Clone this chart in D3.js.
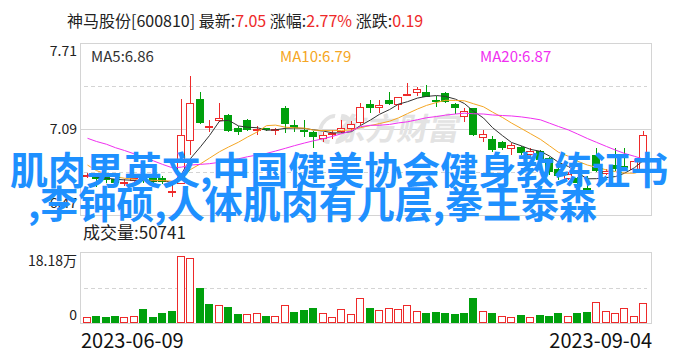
<!DOCTYPE html>
<html>
<head>
<meta charset="utf-8">
<script src="https://cdn.jsdelivr.net/npm/d3@7"></script>
<style>
  html, body { margin: 0; padding: 0; background: #fff; overflow: hidden; }
  text { font-family: "Noto Sans CJK SC", "Noto Sans", sans-serif; }
</style>
</head>
<body>
<div id="chart"></div>
<script>
// daily candles, 2023-06-09 .. 2023-09-04
var opens  = [6.750,6.750,6.745,6.730,6.700,6.720,6.750,6.750,6.740,6.640,
              6.699,7.009,7.306,7.110,7.153,7.191,7.095,7.155,7.090,7.095,
              7.085,7.244,7.119,7.085,7.070,7.027,7.055,7.075,7.100,7.143,
              7.270,7.246,7.300,7.268,7.335,7.357,7.355,7.300,7.347,7.270,
              7.182,7.239,7.030,7.018,6.994,6.950,6.960,6.910,6.930,6.880,
              6.800,6.740,6.735,6.665,6.900,6.770,6.830,6.822,6.800,6.782];
var highs  = [6.770,6.765,6.760,6.745,6.730,6.760,6.760,6.760,6.750,6.700,
              7.304,7.474,7.359,7.155,7.280,7.195,7.110,7.160,7.110,7.100,
              7.100,7.255,7.155,7.155,7.075,7.070,7.080,7.155,7.148,7.275,
              7.300,7.300,7.355,7.320,7.425,7.395,7.407,7.328,7.360,7.275,
              7.240,7.240,7.083,7.040,7.000,6.987,6.970,6.950,6.940,6.890,
              6.810,6.780,6.745,6.750,6.950,6.800,6.950,6.950,6.875,7.075];
var lows   = [6.735,6.670,6.700,6.680,6.680,6.700,6.700,6.700,6.690,6.600,
              6.690,6.900,7.124,7.070,7.144,7.070,7.050,7.075,7.050,7.075,
              7.050,7.063,7.070,7.035,6.950,6.998,7.020,7.060,7.075,7.119,
              7.208,7.203,7.260,7.225,7.330,7.330,7.320,7.250,7.280,7.200,
              7.143,7.040,6.998,6.927,6.940,6.900,6.900,6.890,6.850,6.760,
              6.720,6.720,6.660,6.655,6.780,6.760,6.790,6.790,6.790,6.780];
var closes = [6.755,6.730,6.720,6.700,6.710,6.740,6.720,6.710,6.705,6.645,
              7.047,7.275,7.131,7.115,7.169,7.076,7.070,7.083,7.090,7.080,
              7.090,7.124,7.095,7.080,7.030,7.047,7.060,7.095,7.124,7.251,
              7.244,7.265,7.268,7.318,7.340,7.376,7.323,7.298,7.287,7.239,
              7.220,7.047,7.054,6.940,6.950,6.975,6.920,6.930,6.870,6.780,
              6.750,6.765,6.700,6.662,6.785,6.790,6.800,6.820,6.860,7.050];
var volumes = [16600,17400,14800,17400,16600,19200,35600,14800,25200,30400,
               172000,167000,90000,48600,45000,40800,22600,21800,24400,17400,
               19200,45000,27800,33000,38200,24400,16600,34800,21800,63400,
               38200,32200,37400,34800,45000,30400,25200,27800,25200,22600,
               25200,64100,30400,25200,19200,16600,20000,16600,20000,17400,
               25200,19200,25200,27800,53800,30400,24400,38200,19200,50741];

// moving averages as plotted
var ma5  = [6.760,6.745,6.735,6.728,6.723,6.720,6.718,6.716,6.718,6.705,
            6.766,6.877,6.962,7.043,7.147,7.153,7.112,7.103,7.099,7.081,
            7.084,7.095,7.097,7.094,7.084,7.075,7.062,7.062,7.071,7.115,
            7.155,7.196,7.230,7.269,7.287,7.313,7.325,7.331,7.325,7.305,
            7.273,7.218,7.169,7.100,7.042,6.993,6.968,6.943,6.929,6.895,
            6.850,6.819,6.773,6.731,6.732,6.740,6.747,6.771,6.811,6.864];
var ma10 = [6.830,6.790,6.765,6.745,6.735,6.728,6.722,6.720,6.718,6.714,
            6.743,6.798,6.839,6.880,6.926,6.960,6.995,7.032,7.070,7.114,
            7.118,7.103,7.099,7.096,7.082,7.079,7.078,7.080,7.083,7.100,
            7.115,7.129,7.146,7.170,7.201,7.234,7.260,7.281,7.297,7.296,
            7.293,7.272,7.250,7.212,7.173,7.133,7.093,7.056,7.015,6.969,
            6.922,6.893,6.858,6.830,6.814,6.795,6.783,6.772,6.771,6.792];
var ma20 = [7.023,7.000,6.980,6.955,6.935,6.910,6.885,6.860,6.835,6.810,
            6.815,6.830,6.835,6.840,6.850,6.862,6.875,6.890,6.903,6.914,
            6.931,6.951,6.970,6.989,7.005,7.020,7.037,7.056,7.077,7.107,
            7.117,7.117,7.123,7.134,7.142,7.157,7.171,7.180,7.190,7.198,
            7.204,7.200,7.198,7.191,7.187,7.184,7.177,7.168,7.156,7.132,
            7.108,7.083,7.054,7.021,6.994,6.964,6.938,6.914,6.893,6.873];

var priceTicks = [7.71, 7.09, 6.47];
var volumeTicks = [181800, 0];
var dateLabels = ["2023-06-09", "2023-09-04"];
var maNames = ["MA5", "MA10", "MA20"];

var stockName = "神马股份", stockCode = "600810";
var latest = 7.05, pctChange = 2.77, change = 0.19;
var overlayLines = ["肌肉男英文,中国健美协会健身教练证书", ",李钟硕,人体肌肉有几层,拳王泰森"];

var red = "#ee2a2a", green = "#00a00c", gridColor = "#d4d4d4";
var maColors = ["#333333", "#f5a623", "#f02ff0"];

var width = 688, height = 360;
var left = 80, right = 651;
var pTop = 43, pBottom = 215, vTop = 252, vBottom = 323;

var svg = d3.select("#chart").append("svg")
    .attr("width", width).attr("height", height);

var n = closes.length;
var x = d3.scaleBand().domain(d3.range(n))
    .range([82, 648]).paddingInner(0.15).paddingOuter(0.075);
var bw = Math.round(x.bandwidth());
function cx(i) { return Math.round(x(i) + x.bandwidth() / 2) + 0.5; }

var y = d3.scaleLinear().domain([priceTicks[2], priceTicks[0]]).range([pBottom, pTop]);
var yv = d3.scaleLinear().domain([0, volumeTicks[0]]).range([vBottom, vTop]);

// ---------- title ----------
var title = svg.append("text").attr("x", 67).attr("y", 27).attr("font-size", 16).attr("fill", "#222");
title.append("tspan").text(stockName + "[" + stockCode + "]  最新:");
title.append("tspan").attr("fill", red).text(latest.toFixed(2));
title.append("tspan").text("  涨幅:");
title.append("tspan").attr("fill", red).text(pctChange.toFixed(2) + "%");
title.append("tspan").text("  涨跌:");
title.append("tspan").attr("fill", red).text(change.toFixed(2));

// ---------- price panel grid ----------
var grid = svg.append("g").attr("shape-rendering", "crispEdges");
grid.append("rect").attr("x", left + 0.5).attr("y", pTop + 0.5)
    .attr("width", right - left).attr("height", pBottom - pTop)
    .attr("fill", "none").attr("stroke", gridColor);
grid.append("line").attr("x1", left).attr("x2", right)
    .attr("y1", Math.round(y(priceTicks[1])) + 0.5).attr("y2", Math.round(y(priceTicks[1])) + 0.5)
    .attr("stroke", gridColor);
grid.selectAll(".pdash").data(d3.pairs(priceTicks)).enter().append("line")
    .attr("x1", left + 4).attr("x2", right - 4)
    .attr("y1", function (d) { return Math.round(y((d[0] + d[1]) / 2)) + 0.5; })
    .attr("y2", function (d) { return Math.round(y((d[0] + d[1]) / 2)) + 0.5; })
    .attr("stroke", gridColor).attr("stroke-dasharray", "4,3");

svg.append("g").selectAll("text").data(priceTicks).enter().append("text")
    .attr("x", 77).attr("text-anchor", "end").attr("font-size", 14).attr("fill", "#222")
    .attr("y", function (d, i) { return y(d) + [13, 5, -7][i]; })
    .text(function (d) { return d.toFixed(2); });

// watermark
var wm = svg.append("g").attr("fill", "#e3e3e3").attr("transform", "translate(320,140) skewX(-12)");
wm.append("path").attr("d", "M10,-24 A12,13 0 1 0 10,2 M16,-24 A12,13 0 0 1 16,2")
    .attr("fill", "none").attr("stroke", "#e3e3e3").attr("stroke-width", 4);
wm.append("text").attr("x", 14).attr("y", 0).attr("font-size", 31).attr("font-weight", "bold").text("东方财富");

// MA labels
var maVals = [ma5, ma10, ma20];
svg.append("g").selectAll("text").data(maNames).enter().append("text")
    .attr("x", function (d, i) { return [91, 280, 480][i]; })
    .attr("y", 62).attr("font-size", 15)
    .attr("fill", function (d, i) { return maColors[i]; })
    .text(function (d, i) { return d + ":" + maVals[i][n - 1].toFixed(2); });

// ---------- candles ----------
var candles = svg.append("g").attr("shape-rendering", "crispEdges");
d3.range(n).forEach(function (i) {
    var up = closes[i] >= opens[i];
    var col = up ? red : green;
    var top = Math.round(y(Math.max(opens[i], closes[i])));
    var bot = Math.round(y(Math.min(opens[i], closes[i])));
    if (bot - top < 1) bot = top + 1;
    var g = candles.append("g");
    g.append("line").attr("x1", cx(i)).attr("x2", cx(i))
        .attr("y1", y(highs[i])).attr("y2", top).attr("stroke", col);
    g.append("line").attr("x1", cx(i)).attr("x2", cx(i))
        .attr("y1", bot).attr("y2", y(lows[i])).attr("stroke", col);
    var bx = Math.round(x(i)) + 0.5;
    if (up) {
        g.append("rect").attr("x", bx).attr("y", top + 0.5)
            .attr("width", bw - 1).attr("height", Math.max(bot - top, 1))
            .attr("fill", "#fff").attr("stroke", col);
    } else {
        g.append("rect").attr("x", bx - 0.5).attr("y", top)
            .attr("width", bw).attr("height", Math.max(bot - top, 1.5))
            .attr("fill", col);
    }
});

// ---------- moving averages ----------
maVals.forEach(function (arr, k) {
    svg.append("path").datum(arr)
        .attr("fill", "none").attr("stroke", maColors[k]).attr("stroke-width", 1)
        .attr("d", d3.line().x(function (d, i) { return cx(i); }).y(function (d) { return y(d); }));
});

// ---------- volume panel ----------
svg.append("text").attr("x", 83).attr("y", 239).attr("font-size", 17).attr("fill", "#222")
    .text("成交量:" + volumes[n - 1]);

var vgrid = svg.append("g").attr("shape-rendering", "crispEdges");
vgrid.append("rect").attr("x", left + 0.5).attr("y", vTop + 0.5)
    .attr("width", right - left).attr("height", vBottom - vTop)
    .attr("fill", "none").attr("stroke", gridColor);
vgrid.append("line").attr("x1", left + 4).attr("x2", right - 4)
    .attr("y1", Math.round(yv(volumeTicks[0] / 2)) + 0.5).attr("y2", Math.round(yv(volumeTicks[0] / 2)) + 0.5)
    .attr("stroke", gridColor).attr("stroke-dasharray", "4,3");

svg.append("g").selectAll("text").data(volumeTicks).enter().append("text")
    .attr("x", 77).attr("text-anchor", "end").attr("font-size", 14).attr("fill", "#222")
    .attr("y", function (d, i) { return yv(d) + [14, -3][i]; })
    .text(function (d) { return d === 0 ? "0" : (d / 10000).toFixed(2) + "万"; });

var vbars = svg.append("g").attr("shape-rendering", "crispEdges");
d3.range(n).forEach(function (i) {
    var up = i === 0 ? closes[i] >= opens[i] : closes[i] >= closes[i - 1];
    var top = Math.round(yv(volumes[i]));
    var bx = Math.round(x(i)) + 0.5;
    if (up) {
        vbars.append("rect").attr("x", bx).attr("y", top + 0.5)
            .attr("width", bw - 1).attr("height", vBottom - top - 1)
            .attr("fill", "#fff").attr("stroke", red);
    } else {
        vbars.append("rect").attr("x", bx - 0.5).attr("y", top)
            .attr("width", bw).attr("height", vBottom - top)
            .attr("fill", green);
    }
});

// dates
svg.append("text").attr("x", 81).attr("y", 348).attr("font-size", 20).attr("fill", "#111")
    .text(dateLabels[0]);
svg.append("text").attr("x", 652).attr("y", 348).attr("font-size", 20).attr("fill", "#111")
    .attr("text-anchor", "end").text(dateLabels[1]);

// ---------- overlay caption ----------
svg.append("g").attr("font-size", 38).attr("font-weight", "bold").attr("fill", "#1e90ff")
    .selectAll("text").data(overlayLines).enter().append("text")
    .attr("x", function (d, i) { return [10, 28][i]; })
    .attr("y", function (d, i) { return [184, 218][i]; })
    .text(function (d) { return d; });
</script>
</body>
</html>
